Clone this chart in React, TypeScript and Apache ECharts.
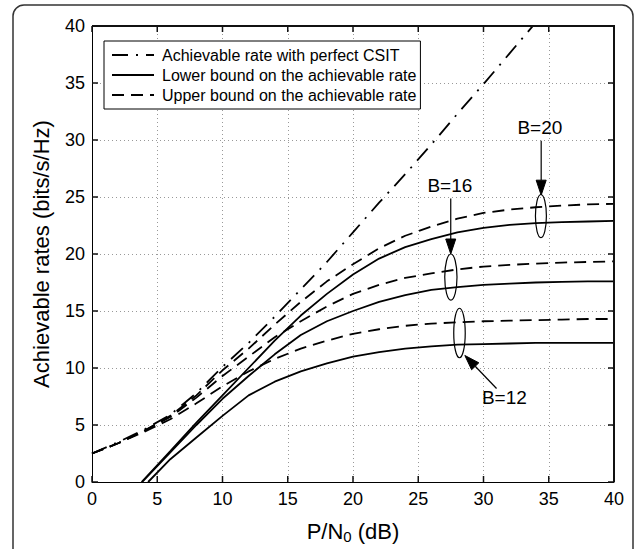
import React, { useEffect, useRef } from 'react';
import * as echarts from 'echarts';

// ---------- data ----------
const SNR_DB = [0, 2, 4, 6, 8, 10, 12, 14, 16, 18, 20, 22, 24, 26, 28, 30, 32, 34, 36, 38, 40];

const PERFECT_CSIT = [2.5, 3.5, 4.6, 5.9, 7.8, 10.1, 12.2, 14.5, 16.9, 19.3, 21.9, 24.5, 27.0, 29.6, 32.3, 34.9, 37.6, 40.3];

const UPPER_B20 = [2.5, 3.4, 4.5, 5.8, 7.6, 9.8, 11.7, 13.8, 15.8, 17.6, 19.1, 20.5, 21.6, 22.4, 23.1, 23.6, 23.9, 24.1, 24.25, 24.35, 24.4];
const UPPER_B16 = [2.5, 3.4, 4.5, 5.7, 7.4, 9.3, 11.0, 12.7, 14.1, 15.4, 16.5, 17.3, 17.9, 18.3, 18.65, 18.9, 19.05, 19.15, 19.25, 19.3, 19.35];
const UPPER_B12 = [2.5, 3.4, 4.4, 5.5, 6.9, 8.4, 9.7, 10.8, 11.7, 12.4, 13.0, 13.4, 13.7, 13.9, 14.0, 14.1, 14.15, 14.2, 14.25, 14.3, 14.3];

// lower bounds: zero crossing, then values at 6, 8, ..., 40 dB
const LOWER_SNR_DB = [6, 8, 10, 12, 14, 16, 18, 20, 22, 24, 26, 28, 30, 32, 34, 36, 38, 40];
const LOWER_ZERO_DB = { b20: 3.8, b16: 3.85, b12: 4.3 };
const LOWER_B20 = [2.7, 5.2, 7.6, 10.0, 12.4, 14.6, 16.5, 18.2, 19.6, 20.6, 21.3, 21.9, 22.3, 22.55, 22.7, 22.8, 22.85, 22.9];
const LOWER_B16 = [2.6, 5.0, 7.3, 9.3, 11.2, 12.9, 14.1, 15.0, 15.8, 16.4, 16.85, 17.1, 17.3, 17.4, 17.5, 17.55, 17.6, 17.6];
const LOWER_B12 = [2.0, 3.9, 5.8, 7.6, 8.8, 9.7, 10.4, 11.0, 11.4, 11.7, 11.9, 12.05, 12.1, 12.15, 12.2, 12.2, 12.2, 12.2];

const TICKS_X = { min: 0, max: 40, interval: 5 };
const TICKS_Y = { min: 0, max: 40, interval: 5 };

const NAME_PERFECT = 'Achievable rate with perfect CSIT';
const NAME_LOWER = 'Lower bound on the achievable rate';
const NAME_UPPER = 'Upper bound on the achievable rate';

// annotation marks (data coordinates)
const GROUP_LABELS = ['B=20', 'B=16', 'B=12'];
const ELLIPSE_X = [34.4, 27.5, 28.16];
const ELLIPSE_Y = [23.33, 17.98, 13.07];
const ELLIPSE_RX = [0.42, 0.47, 0.44];
const ELLIPSE_RY = [1.89, 2.02, 2.17];
const LABEL_X = [34.32, 27.42, 31.6];
const LABEL_Y = [31.13, 26.03, 7.43];
const ARROW_FROM = [[34.42, 29.94], [27.49, 24.87], [31.0, 8.2]];
const ARROW_TO = [[34.42, 25.16], [27.49, 20.0], [28.57, 11.1]];

const FONT = '"Liberation Sans", Arial, Helvetica, sans-serif';

export default function App() {
  const ref = useRef<HTMLDivElement>(null);

  useEffect(() => {
    const el = ref.current as HTMLDivElement;
    const chart = echarts.init(el, null, { renderer: 'svg' });

    const dashed = [12, 7];
    const dashDot = [16, 8, 2, 8];
    const lw = 1.8;
    const pair = (xs: number[], ys: number[]) => ys.map((y, i) => [xs[i], y]);
    const mk = (name: string, data: number[][], type: any) => ({
      name,
      type: 'line',
      data,
      symbol: 'none',
      clip: true,
      silent: true,
      z: 3,
      lineStyle: { color: '#000', width: lw, type },
      itemStyle: { color: '#000' },
    });

    const axisCommon = {
      type: 'value',
      axisLine: { show: true, onZero: false, lineStyle: { color: '#000', width: 1 } },
      axisTick: { show: false },
    };

    const option: any = {
      animation: false,
      textStyle: { fontFamily: FONT },
      grid: { left: 92, top: 26, width: 522, height: 460 },
      legend: {
        show: true,
        orient: 'vertical',
        left: 104,
        top: 41,
        data: [NAME_PERFECT, NAME_LOWER, NAME_UPPER],
        itemWidth: 42,
        itemHeight: 14,
        itemGap: 4,
        padding: [6, 4, 6, 7],
        borderColor: '#000',
        borderWidth: 1,
        backgroundColor: '#fff',
        selectedMode: false,
        itemStyle: { color: 'rgba(0,0,0,0)', borderWidth: 0, opacity: 0 },
        textStyle: { fontSize: 16, fontFamily: FONT, color: '#000', padding: [0, 0, 0, 3] },
        z: 10,
      },
      xAxis: {
        ...axisCommon,
        ...TICKS_X,
        position: 'bottom',
        axisLabel: { show: true, fontSize: 18, color: '#000', margin: 8, fontFamily: FONT },
        splitLine: { show: true, lineStyle: { color: '#999', width: 1, type: [1, 3] } },
        name: '{a|P/N}{s|0}{a| (dB)}',
        nameLocation: 'middle',
        nameGap: 36,
        nameTextStyle: {
          rich: {
            a: { fontSize: 22, fontFamily: FONT, color: '#000', lineHeight: 26 },
            s: { fontSize: 15, fontFamily: FONT, color: '#000', lineHeight: 15, verticalAlign: 'bottom' },
          },
        },
      },
      yAxis: {
        ...axisCommon,
        ...TICKS_Y,
        position: 'left',
        axisLabel: { show: true, fontSize: 18, color: '#000', margin: 7, fontFamily: FONT },
        splitLine: { show: true, lineStyle: { color: '#999', width: 1, type: [1, 3] } },
        name: 'Achievable rates (bits/s/Hz)',
        nameLocation: 'middle',
        nameGap: 40,
        nameTextStyle: { fontSize: 22, fontFamily: FONT, color: '#000' },
      },
      series: [
        mk(NAME_PERFECT, pair(SNR_DB, PERFECT_CSIT), dashDot),
        mk(NAME_LOWER, [[LOWER_ZERO_DB.b20, 0], ...pair(LOWER_SNR_DB, LOWER_B20)], 'solid'),
        mk(NAME_LOWER, [[LOWER_ZERO_DB.b16, 0], ...pair(LOWER_SNR_DB, LOWER_B16)], 'solid'),
        mk(NAME_LOWER, [[LOWER_ZERO_DB.b12, 0], ...pair(LOWER_SNR_DB, LOWER_B12)], 'solid'),
        mk(NAME_UPPER, pair(SNR_DB, UPPER_B20), dashed),
        mk(NAME_UPPER, pair(SNR_DB, UPPER_B16), dashed),
        mk(NAME_UPPER, pair(SNR_DB, UPPER_B12), dashed),
      ],
    };

    chart.setOption(option);

    const toPx = (x: number, y: number) => chart.convertToPixel({ seriesIndex: 0 }, [x, y]) as number[];
    const p00 = toPx(TICKS_X.min, TICKS_Y.min);
    const p11 = toPx(TICKS_X.max, TICKS_Y.max);
    const L = p00[0];
    const B = p00[1];
    const R = p11[0];
    const T = p11[1];

    const graphics: any[] = [];
    // MATLAB-style box: top and right edges
    graphics.push({ type: 'line', shape: { x1: L, y1: T, x2: R + 1, y2: T }, style: { stroke: '#111', lineWidth: 2 }, z: 50 });
    graphics.push({ type: 'line', shape: { x1: R, y1: T, x2: R, y2: B }, style: { stroke: '#111', lineWidth: 2 }, z: 50 });
    // inward ticks on all four sides
    const tl = 6;
    const tick = (x1: number, y1: number, x2: number, y2: number) => ({
      type: 'line',
      shape: { x1, y1, x2, y2 },
      style: { stroke: '#111', lineWidth: 1.5 },
      z: 50,
    });
    for (let v = TICKS_X.min; v <= TICKS_X.max; v += TICKS_X.interval) {
      const x = toPx(v, 0)[0];
      graphics.push(tick(x, T, x, T + tl));
      graphics.push(tick(x, B, x, B - tl));
    }
    for (let v = TICKS_Y.min; v <= TICKS_Y.max; v += TICKS_Y.interval) {
      const y = toPx(0, v)[1];
      graphics.push(tick(L, y, L + tl, y));
      graphics.push(tick(R, y, R - tl, y));
    }

    GROUP_LABELS.forEach((label, i) => {
      const c = toPx(ELLIPSE_X[i], ELLIPSE_Y[i]);
      const ex = toPx(ELLIPSE_X[i] + ELLIPSE_RX[i], ELLIPSE_Y[i] + ELLIPSE_RY[i]);
      graphics.push({
        type: 'ellipse',
        shape: { cx: c[0], cy: c[1], rx: Math.abs(ex[0] - c[0]), ry: Math.abs(c[1] - ex[1]) },
        style: { fill: 'transparent', stroke: '#000', lineWidth: 1.2 },
        silent: true,
        z: 20,
      });
      const t = toPx(LABEL_X[i], LABEL_Y[i]);
      graphics.push({
        type: 'text',
        x: t[0],
        y: t[1],
        style: { text: label, fontSize: 19, fontFamily: FONT, fill: '#000', align: 'center', verticalAlign: 'middle' },
        silent: true,
        z: 20,
      });
      const a = toPx(ARROW_FROM[i][0], ARROW_FROM[i][1]);
      const b = toPx(ARROW_TO[i][0], ARROW_TO[i][1]);
      const dx = b[0] - a[0];
      const dy = b[1] - a[1];
      const len = Math.sqrt(dx * dx + dy * dy);
      const ux = dx / len;
      const uy = dy / len;
      const headLen = 15;
      const headHalf = 5;
      const bx = b[0] - ux * headLen;
      const by = b[1] - uy * headLen;
      graphics.push({
        type: 'line',
        shape: { x1: a[0], y1: a[1], x2: bx, y2: by },
        style: { stroke: '#000', lineWidth: 1.2 },
        silent: true,
        z: 20,
      });
      graphics.push({
        type: 'polygon',
        shape: {
          points: [
            [b[0], b[1]],
            [bx - uy * headHalf, by + ux * headHalf],
            [bx + uy * headHalf, by - ux * headHalf],
          ],
        },
        style: { fill: '#000', stroke: '#000', lineWidth: 1 },
        silent: true,
        z: 20,
      });
    });

    // outer figure frame (rounded)
    graphics.push({
      type: 'rect',
      shape: { x: 13, y: 5, width: 620, height: 600, r: 11 },
      style: { fill: 'transparent', stroke: '#333', lineWidth: 1.5 },
      silent: true,
      z: 1,
    });

    chart.setOption({ graphic: graphics });

    return () => chart.dispose();
  }, []);

  return (
    <div
      ref={ref}
      style={{ position: 'fixed', left: 0, top: 0, width: 638, height: 549, background: '#fff' }}
    />
  );
}
